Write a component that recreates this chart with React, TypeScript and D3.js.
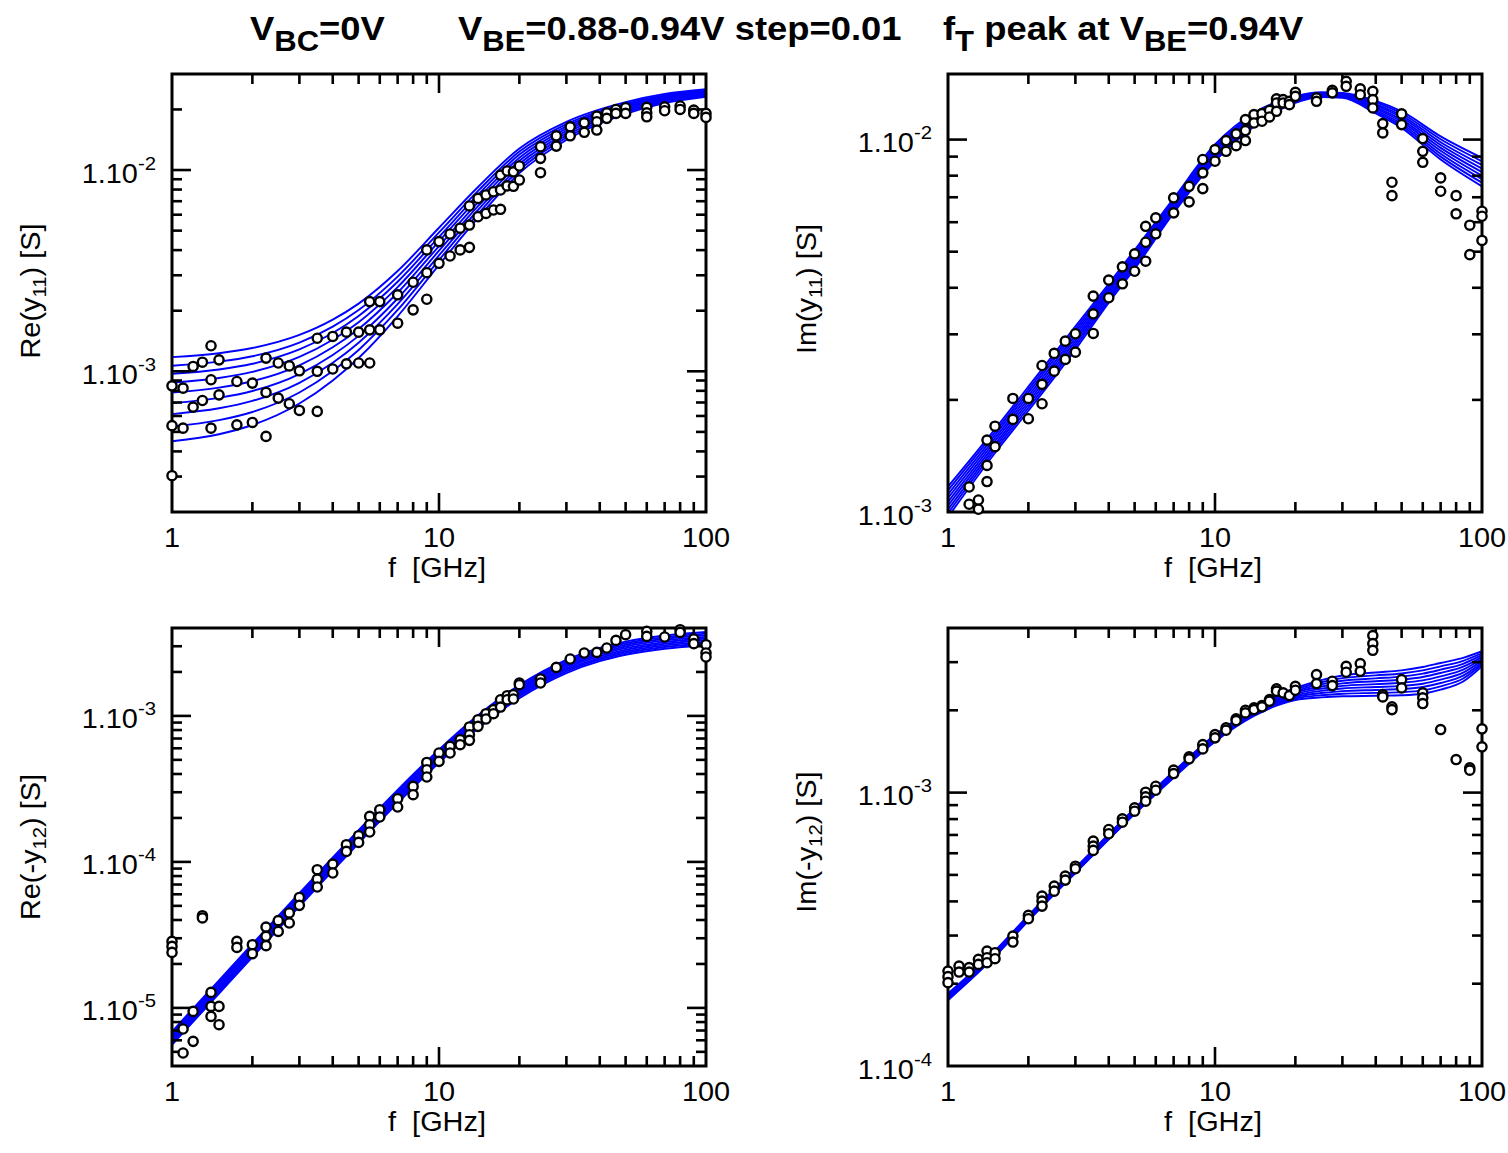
import React from "react";
import * as d3 from "d3";

type Pt = [number, number];

// ---------------- shared axis data ----------------
const X_TICK_VALUES = [1, 10, 100];
const X_TICK_LABELS = ["1", "10", "100"];
const X_LABEL = "f\u00a0\u00a0[GHz]";

// ---------------- Re(y11)  (values in mS) ----------------
const FREQ_RE_Y11 = [1, 1.5, 2, 3, 4, 5, 7, 10, 14, 20, 30, 50, 70, 100];
const RE_Y11_FIT = [
  [1.176, 1.23, 1.305, 1.516, 1.806, 2.169, 3.149, 5.166, 8.237, 12.8, 17.36, 21.76, 23.89, 25.21],
  [1.065, 1.117, 1.188, 1.39, 1.668, 2.016, 2.956, 4.896, 7.877, 12.35, 16.91, 21.39, 23.57, 24.93],
  [0.972, 1.021, 1.09, 1.284, 1.55, 1.884, 2.786, 4.653, 7.545, 11.93, 16.49, 21.04, 23.27, 24.66],
  [0.88, 0.927, 0.993, 1.178, 1.434, 1.754, 2.621, 4.422, 7.228, 11.52, 16.07, 20.69, 22.97, 24.4],
  [0.785, 0.83, 0.893, 1.071, 1.316, 1.624, 2.457, 4.191, 6.912, 11.12, 15.66, 20.35, 22.67, 24.14],
  [0.695, 0.738, 0.798, 0.969, 1.205, 1.5, 2.3, 3.972, 6.614, 10.73, 15.25, 20.0, 22.37, 23.88],
  [0.613, 0.655, 0.713, 0.877, 1.103, 1.387, 2.156, 3.767, 6.331, 10.36, 14.86, 19.67, 22.08, 23.62],
  [0.532, 0.572, 0.628, 0.785, 1.003, 1.277, 2.017, 3.572, 6.059, 10.01, 14.48, 19.34, 21.79, 23.37],
  [0.449, 0.487, 0.541, 0.692, 0.901, 1.165, 1.877, 3.376, 5.788, 9.652, 14.1, 19.01, 21.5, 23.11],
];
const RE_Y11_MEAS: Pt[] = [
  [1, 0.847], [1, 0.537], [1, 0.303], [1.1, 0.825], [1.1, 0.522], [1.2, 1.057], [1.2, 0.664],
  [1.3, 1.11], [1.3, 0.716], [1.4, 1.34], [1.4, 0.908], [1.4, 0.522], [1.5, 1.14], [1.5, 0.764],
  [1.75, 0.89], [1.75, 0.542], [2, 0.874], [2, 0.557], [2.25, 1.163], [2.25, 0.785], [2.25, 0.475],
  [2.5, 1.1], [2.5, 0.736], [2.75, 1.064], [2.75, 0.69], [3, 1.006], [3, 0.639],
  [3.5, 1.46], [3.5, 1.0], [3.5, 0.632], [4, 1.49], [4, 1.027], [4.5, 1.565], [4.5, 1.09],
  [5, 1.565], [5, 1.1], [5.5, 2.22], [5.5, 1.607], [5.5, 1.1], [6, 2.22], [6, 1.607],
  [7, 2.4], [7, 1.734], [8, 2.77], [8, 2.02], [9, 4.01], [9, 3.09], [9, 2.28], [10, 4.41], [10, 3.44],
  [11, 4.81], [11, 3.74], [12, 5.14], [12, 4.01], [13, 6.63], [13, 5.33], [13, 4.13],
  [14, 7.23], [14, 5.86], [15, 7.52], [15, 6.09], [16, 7.8], [16, 6.33], [17, 9.44], [17, 7.96], [17, 6.38],
  [18, 9.89], [18, 8.34], [19, 9.8], [19, 8.3], [20, 10.47], [20, 8.92],
  [24, 13.05], [24, 11.43], [24, 9.7], [27.5, 14.79], [27.5, 13.15], [31, 16.4], [31, 14.79],
  [35, 17.17], [35, 15.4], [39, 18.53], [39, 17.38], [39, 15.8], [42.5, 19.25], [42.5, 18.06],
  [46, 20.0], [46, 19.11], [50, 20.4], [50, 19.11], [60, 20.5], [60, 19.25], [60, 18.39],
  [70, 20.6], [70, 19.7], [80, 20.8], [80, 20.0], [90, 19.85], [90, 19.11], [100, 19.11], [100, 18.26],
];

// ---------------- Im(y11)  (values in mS) ----------------
const FREQ_IM_Y11 = [1, 1.5, 2, 3, 4, 5, 7, 10, 14, 20, 25, 30, 40, 50, 70, 100];
const IM_Y11_FIT = [
  [1.17, 1.67, 2.17, 3.15, 4.1, 5.05, 6.95, 9.7, 11.8, 13.07, 13.4, 13.35, 12.7, 11.9, 10.2, 8.93],
  [1.143, 1.639, 2.13, 3.094, 4.041, 4.978, 6.872, 9.576, 11.68, 13.0, 13.35, 13.3, 12.58, 11.75, 10.02, 8.74],
  [1.116, 1.609, 2.091, 3.039, 3.983, 4.906, 6.795, 9.453, 11.56, 12.94, 13.3, 13.25, 12.45, 11.6, 9.84, 8.55],
  [1.091, 1.579, 2.052, 2.986, 3.925, 4.836, 6.719, 9.332, 11.43, 12.87, 13.25, 13.2, 12.33, 11.46, 9.67, 8.36],
  [1.065, 1.551, 2.014, 2.933, 3.869, 4.767, 6.643, 9.212, 11.31, 12.81, 13.2, 13.15, 12.21, 11.31, 9.5, 8.18],
  [1.041, 1.522, 1.977, 2.881, 3.813, 4.699, 6.569, 9.094, 11.2, 12.74, 13.15, 13.1, 12.1, 11.17, 9.33, 8.0],
  [1.016, 1.494, 1.941, 2.83, 3.758, 4.631, 6.495, 8.978, 11.08, 12.68, 13.1, 13.05, 11.98, 11.03, 9.16, 7.83],
  [0.993, 1.467, 1.905, 2.78, 3.704, 4.565, 6.422, 8.863, 10.96, 12.61, 13.05, 13.0, 11.86, 10.89, 9.0, 7.66],
  [0.97, 1.44, 1.87, 2.73, 3.65, 4.5, 6.35, 8.75, 10.85, 12.55, 13.0, 12.95, 11.75, 10.75, 8.84, 7.49],
];
const IM_Y11_MEAS: Pt[] = [
  [1.2, 1.167], [1.2, 1.049], [1.3, 1.077], [1.3, 1.017], [1.4, 1.56], [1.4, 1.334], [1.4, 1.207],
  [1.5, 1.7], [1.5, 1.498], [1.75, 2.018], [1.75, 1.773], [2, 2.018], [2, 1.78],
  [2.25, 2.474], [2.25, 2.202], [2.25, 1.953], [2.5, 2.666], [2.5, 2.389], [2.75, 2.876], [2.75, 2.569],
  [3, 3.01], [3, 2.687], [3.5, 3.8], [3.5, 3.406], [3.5, 3.016], [4, 4.195], [4, 3.761],
  [4.5, 4.553], [4.5, 4.1], [5, 4.935], [5, 4.43], [5.5, 5.85], [5.5, 5.3], [5.5, 4.715],
  [6, 6.165], [6, 5.585], [7, 6.975], [7, 6.357], [8, 7.49], [8, 6.805], [9, 8.84], [9, 8.14], [9, 7.385],
  [10, 9.4], [10, 8.745], [11, 9.94], [11, 9.3], [12, 10.36], [12, 9.63], [13, 11.32], [13, 10.57], [13, 9.94],
  [14, 11.67], [14, 11.08], [15, 11.74], [15, 11.2], [16, 11.98], [16, 11.5],
  [17, 12.86], [17, 12.54], [17, 11.91], [18, 12.8], [18, 12.54], [19, 12.67], [19, 12.41],
  [20, 13.39], [20, 13.07], [24, 12.94], [24, 12.67], [27.5, 13.56], [27.5, 13.35],
  [31, 14.34], [31, 13.9], [35, 13.68], [35, 13.2], [39, 13.48], [39, 12.8], [39, 12.16],
  [42.5, 11.04], [42.5, 10.42], [46, 7.68], [46, 7.07], [50, 11.72], [50, 10.97],
  [60, 10.06], [60, 9.3], [60, 8.69], [70, 7.89], [70, 7.265], [80, 7.07], [80, 6.32],
  [90, 5.89], [90, 4.91], [100, 6.42], [100, 6.225], [100, 5.36],
];

// ---------------- Re(-y12)  (values in uS) ----------------
const FREQ_RE_Y12 = [1, 1.5, 2, 3, 5, 7, 10, 14, 20, 30, 40, 50, 70, 100];
const RE_Y12_FIT = [
  [6.888, 15.46, 27.41, 61.14, 165.3, 311.6, 587.9, 1009, 1629, 2423, 2922, 3230, 3556, 3758],
  [6.71, 15.07, 26.7, 59.57, 161.1, 303.6, 572.8, 983.0, 1587, 2361, 2847, 3147, 3465, 3661],
  [6.538, 14.68, 26.02, 58.03, 156.9, 295.7, 558.0, 957.7, 1546, 2300, 2774, 3066, 3375, 3567],
  [6.369, 14.3, 25.34, 56.54, 152.9, 288.1, 543.6, 933.0, 1506, 2241, 2702, 2987, 3288, 3475],
  [6.205, 13.93, 24.69, 55.08, 148.9, 280.7, 529.6, 909.0, 1467, 2183, 2633, 2910, 3204, 3386],
  [6.046, 13.57, 24.06, 53.67, 145.1, 273.5, 516.0, 885.6, 1430, 2127, 2565, 2835, 3121, 3298],
  [5.89, 13.22, 23.44, 52.28, 141.4, 266.4, 502.7, 862.8, 1393, 2072, 2499, 2762, 3041, 3213],
  [5.738, 12.88, 22.83, 50.94, 137.7, 259.6, 489.8, 840.6, 1357, 2019, 2434, 2691, 2963, 3131],
  [5.59, 12.55, 22.25, 49.62, 134.2, 252.9, 477.2, 818.9, 1322, 1967, 2372, 2622, 2886, 3050],
];
const RE_Y12_MEAS: Pt[] = [
  [1, 28.54], [1, 26.38], [1, 24.0], [1.1, 7.17], [1.1, 4.91], [1.2, 9.46], [1.2, 5.9],
  [1.3, 42.8], [1.3, 41.3], [1.4, 12.77], [1.4, 10.24], [1.4, 8.745], [1.5, 10.24], [1.5, 7.67],
  [1.75, 28.54], [1.75, 25.97], [2, 27.1], [2, 23.5], [2.25, 35.8], [2.25, 30.9], [2.25, 26.7],
  [2.5, 39.6], [2.5, 33.4], [2.75, 44.7], [2.75, 38.15], [3, 57.1], [3, 50.4],
  [3.5, 88.4], [3.5, 76.3], [3.5, 67.3], [4, 96.7], [4, 83.95], [4.5, 131.2], [4.5, 118],
  [5, 151.2], [5, 136], [5.5, 205], [5.5, 179.8], [5.5, 160.2], [6, 227.8], [6, 203.1],
  [7, 271], [7, 237.7], [8, 329], [8, 288.6], [9, 480], [9, 428], [9, 381.5], [10, 557], [10, 488],
  [11, 618], [11, 557], [12, 687], [12, 635], [13, 840], [13, 743], [13, 680], [14, 942], [14, 848],
  [15, 1035], [15, 952], [16, 1103], [16, 1035], [17, 1290], [17, 1150], [18, 1375], [18, 1290],
  [19, 1397], [19, 1305], [20, 1680], [20, 1636], [24, 1790], [24, 1680], [27.5, 2149], [31, 2454],
  [35, 2697], [39, 2723], [42.5, 2918], [46, 3290], [50, 3600], [60, 3790], [60, 3504], [70, 3470],
  [80, 3895], [80, 3733], [90, 3363], [90, 3124], [100, 3074], [100, 2697], [100, 2532],
];

// ---------------- Im(-y12)  (values in 1e-4 S) ----------------
const FREQ_IM_Y12 = [1, 1.5, 2, 3, 5, 7, 10, 14, 17, 20, 25, 30, 40, 50, 60, 70, 85, 100];
const IM_Y12_FIT = [
  [1.84, 2.639, 3.554, 5.305, 8.755, 11.95, 16.27, 20.39, 22.64, 24.14, 25.8, 26.8, 27.5, 28.0, 28.8, 29.8, 31.1, 32.9],
  [1.827, 2.624, 3.534, 5.276, 8.702, 11.87, 16.15, 20.22, 22.41, 23.84, 25.33, 26.22, 26.83, 27.28, 28.0, 28.97, 30.34, 32.39],
  [1.815, 2.609, 3.514, 5.247, 8.65, 11.79, 16.04, 20.05, 22.17, 23.53, 24.88, 25.65, 26.18, 26.57, 27.23, 28.17, 29.59, 31.88],
  [1.802, 2.592, 3.495, 5.218, 8.598, 11.71, 15.92, 19.88, 21.94, 23.24, 24.43, 25.1, 25.55, 25.88, 26.47, 27.39, 28.87, 31.38],
  [1.789, 2.577, 3.475, 5.19, 8.547, 11.64, 15.8, 19.71, 21.71, 22.95, 23.99, 24.56, 24.93, 25.21, 25.74, 26.63, 28.16, 30.89],
  [1.777, 2.562, 3.456, 5.161, 8.495, 11.56, 15.69, 19.55, 21.48, 22.65, 23.56, 24.03, 24.33, 24.56, 25.02, 25.89, 27.47, 30.41],
  [1.765, 2.548, 3.437, 5.134, 8.444, 11.48, 15.57, 19.38, 21.26, 22.37, 23.13, 23.51, 23.74, 23.92, 24.33, 25.17, 26.8, 29.93],
  [1.752, 2.532, 3.418, 5.106, 8.393, 11.4, 15.46, 19.22, 21.03, 22.09, 22.71, 23.0, 23.16, 23.3, 23.66, 24.48, 26.14, 29.46],
  [1.74, 2.517, 3.399, 5.078, 8.343, 11.33, 15.35, 19.06, 20.81, 21.82, 22.3, 22.5, 22.6, 22.7, 23.0, 23.8, 25.5, 29.0],
];
const IM_Y12_MEAS: Pt[] = [
  [1, 2.225], [1, 2.122], [1, 2.018], [1.1, 2.32], [1.1, 2.206], [1.2, 2.289], [1.2, 2.206],
  [1.3, 2.455], [1.3, 2.353], [1.4, 2.633], [1.4, 2.49], [1.4, 2.387], [1.5, 2.597], [1.5, 2.469],
  [1.75, 2.987], [1.75, 2.84], [2, 3.555], [2, 3.456], [2.25, 4.18], [2.25, 4.01], [2.25, 3.845],
  [2.5, 4.55], [2.5, 4.36], [2.75, 4.95], [2.75, 4.785], [3, 5.38], [3, 5.265],
  [3.5, 6.645], [3.5, 6.37], [3.5, 6.145], [4, 7.33], [4, 7.07], [4.5, 8.02], [4.5, 7.795],
  [5, 8.8], [5, 8.55], [5.5, 10.035], [5.5, 9.65], [5.5, 9.3], [6, 10.55], [6, 10.2],
  [7, 12.08], [7, 11.74], [8, 13.51], [8, 13.29], [9, 14.99], [9, 14.45], [10, 16.3], [10, 15.86],
  [11, 17.25], [11, 16.91], [12, 18.61], [12, 18.34], [13, 20.01], [13, 19.57], [14, 20.41], [14, 20.12],
  [15, 20.81], [15, 20.59], [16, 21.89], [16, 21.58], [17, 23.96], [17, 23.48], [18, 23.16], [19, 22.64],
  [20, 24.48], [20, 23.68], [24, 27.02], [24, 25.05], [27.5, 25.54], [27.5, 24.63],
  [31, 28.97], [31, 27.55], [35, 29.64], [35, 27.78], [39, 37.52], [39, 35.07], [39, 33.15],
  [42.5, 22.83], [42.5, 22.39], [46, 20.59], [46, 20.12], [50, 25.91], [50, 24.15],
  [60, 23.16], [60, 22.21], [60, 21.17], [70, 17.01], [80, 13.21], [90, 12.32], [90, 12.08],
  [100, 17.11], [100, 14.7],
];

// ---------------- title ----------------
const TITLE_PARTS: { x: number; parts: [string, boolean][] }[] = [
  { x: 250, parts: [["V", false], ["BC", true], ["=0V", false]] },
  { x: 458, parts: [["V", false], ["BE", true], ["=0.88-0.94V step=0.01", false]] },
  { x: 943, parts: [["f", false], ["T", true], [" peak at V", false], ["BE", true], ["=0.94V", false]] },
];

interface PanelCfg {
  id: string;
  x0: number; x1: number; y0: number; y1: number;
  yDomain: [number, number];
  unit: number;
  freqs: number[];
  fits: number[][];
  meas: Pt[];
  yLabel: [string, string, string];
  yLabelX: number;
  yLabelY: number;
}

const PANELS: PanelCfg[] = [
  { id: "tl", x0: 172, x1: 706, y0: 74, y1: 512, yDomain: [2e-4, 3e-2], unit: 1e-3,
    freqs: FREQ_RE_Y11, fits: RE_Y11_FIT, meas: RE_Y11_MEAS, yLabel: ["Re(y", "11", ") [S]"], yLabelX: 40, yLabelY: 291 },
  { id: "tr", x0: 948, x1: 1482, y0: 74, y1: 512, yDomain: [1e-3, 1.5e-2], unit: 1e-3,
    freqs: FREQ_IM_Y11, fits: IM_Y11_FIT, meas: IM_Y11_MEAS, yLabel: ["Im(y", "11", ") [S]"], yLabelX: 816, yLabelY: 289 },
  { id: "bl", x0: 172, x1: 706, y0: 628, y1: 1066, yDomain: [4e-6, 4e-3], unit: 1e-6,
    freqs: FREQ_RE_Y12, fits: RE_Y12_FIT, meas: RE_Y12_MEAS, yLabel: ["Re(-y", "12", ") [S]"], yLabelX: 40, yLabelY: 847 },
  { id: "br", x0: 948, x1: 1482, y0: 628, y1: 1066, yDomain: [1e-4, 4e-3], unit: 1e-4,
    freqs: FREQ_IM_Y12, fits: IM_Y12_FIT, meas: IM_Y12_MEAS, yLabel: ["Im(-y", "12", ") [S]"], yLabelX: 816, yLabelY: 842 },
];

const FONT = "'Liberation Sans', Arial, Helvetica, sans-serif";
const SX = 1.07;

function logTicks(lo: number, hi: number) {
  const out: { v: number; major: boolean }[] = [];
  for (let d = Math.floor(Math.log10(lo)) - 1; d <= Math.ceil(Math.log10(hi)); d++) {
    for (let k = 1; k <= 9; k++) {
      const v = k * Math.pow(10, d);
      if (v > lo * 1.0001 && v < hi * 0.9999) out.push({ v, major: k === 1 });
    }
  }
  return out;
}

function decades(lo: number, hi: number) {
  const out: number[] = [];
  for (let d = Math.floor(Math.log10(lo)) - 1; d <= Math.ceil(Math.log10(hi)); d++) {
    const v = Math.pow(10, d);
    if (v >= lo * 0.999 && v <= hi * 1.001) out.push(d);
  }
  return out;
}

function Panel({ cfg }: { cfg: PanelCfg }) {
  const { x0, x1, y0, y1 } = cfg;
  const xs = d3.scaleLog().domain([1, 100]).range([x0, x1]);
  const ys = d3.scaleLog().domain(cfg.yDomain).range([y1, y0]);
  const line = d3
    .line<Pt>()
    .x((d) => xs(d[0]))
    .y((d) => ys(d[1] * cfg.unit))
    .curve(d3.curveMonotoneX);

  const MAJ = 19;
  const MIN = 10;
  const xt = logTicks(1, 100);
  const yt = logTicks(cfg.yDomain[0], cfg.yDomain[1]);
  const tickW = 2.6;

  return (
    <g>
      <defs>
        <clipPath id={`clip-${cfg.id}`}>
          <rect x={x0} y={y0} width={x1 - x0} height={y1 - y0} />
        </clipPath>
      </defs>
      <g clipPath={`url(#clip-${cfg.id})`}>
        {cfg.fits.map((fit, i) => (
          <path
            key={i}
            d={line(cfg.freqs.map((f, j) => [f, fit[j]] as Pt)) || ""}
            fill="none"
            stroke="#0000ff"
            strokeWidth={1.9}
          />
        ))}
      </g>
      {/* ticks */}
      <g stroke="#000" strokeWidth={tickW}>
        {xt.map((t, i) => {
          const x = xs(t.v);
          const L = t.major ? MAJ : MIN;
          return (
            <g key={"x" + i}>
              <line x1={x} x2={x} y1={y1} y2={y1 - L} />
              <line x1={x} x2={x} y1={y0} y2={y0 + L} />
            </g>
          );
        })}
        {yt.map((t, i) => {
          const y = ys(t.v);
          const L = t.major ? MAJ : MIN;
          return (
            <g key={"y" + i}>
              <line x1={x0} x2={x0 + L} y1={y} y2={y} />
              <line x1={x1} x2={x1 - L} y1={y} y2={y} />
            </g>
          );
        })}
      </g>
      <rect x={x0} y={y0} width={x1 - x0} height={y1 - y0} fill="none" stroke="#000" strokeWidth={3} />
      {/* measured points */}
      <g fill="#fff" stroke="#000" strokeWidth={2.4}>
        {cfg.meas.map((p, i) => (
          <circle key={i} cx={xs(p[0])} cy={ys(p[1] * cfg.unit)} r={4.6} />
        ))}
      </g>
      {/* x tick labels */}
      {X_TICK_VALUES.map((v, i) => (
        <text
          key={"xl" + i}
          transform={`translate(${xs(v)},${y1 + 35}) scale(${SX},1)`}
          textAnchor="middle"
          fontSize={27}
          fontFamily={FONT}
          fill="#000"
        >
          {X_TICK_LABELS[i]}
        </text>
      ))}
      <text
        transform={`translate(${(x0 + x1) / 2 - 2},${y1 + 65}) scale(${SX},1)`}
        textAnchor="middle"
        fontSize={27}
        fontFamily={FONT}
        fill="#000"
      >
        {X_LABEL}
      </text>
      {/* y tick labels */}
      {decades(cfg.yDomain[0], cfg.yDomain[1]).map((d) => (
        <text
          key={"yl" + d}
          transform={`translate(${x0 - 16},${ys(Math.pow(10, d)) + 12.5}) scale(${SX},1)`}
          textAnchor="end"
          fontSize={27}
          fontFamily={FONT}
          fill="#000"
        >
          1.10
          <tspan fontSize={19} dy={-13}>
            {String(d)}
          </tspan>
        </text>
      ))}
      {/* y axis label */}
      <text
        transform={`translate(${cfg.yLabelX},${cfg.yLabelY}) rotate(-90) scale(${SX},1)`}
        textAnchor="middle"
        fontSize={27}
        fontFamily={FONT}
        fill="#000"
      >
        {cfg.yLabel[0]}
        <tspan fontSize={19} dy={6}>
          {cfg.yLabel[1]}
        </tspan>
        <tspan dy={-6}>{cfg.yLabel[2].replace(" ", "\u00a0")}</tspan>
      </text>
    </g>
  );
}

export default function App() {
  return (
    <svg
      width={1508}
      height={1153}
      style={{ position: "absolute", left: 0, top: 0, display: "block", background: "#fff" }}
    >
      <rect x={0} y={0} width={1508} height={1153} fill="#fff" />
      {TITLE_PARTS.map((seg, i) => (
        <text
          key={i}
          transform={`translate(${seg.x},39.5) scale(1.07,1)`}
          fontSize={34}
          fontWeight="bold"
          fontFamily={FONT}
          fill="#000"
        >
          {seg.parts.map(([s, sub], j) => {
            const prevSub = j > 0 && seg.parts[j - 1][1];
            const dy = sub ? 11 : prevSub ? -11 : 0;
            return (
              <tspan key={j} fontSize={sub ? 29 : 34} dy={dy} style={{ whiteSpace: "pre" }}>
                {s}
              </tspan>
            );
          })}
        </text>
      ))}
      {PANELS.map((p) => (
        <Panel key={p.id} cfg={p} />
      ))}
    </svg>
  );
}
